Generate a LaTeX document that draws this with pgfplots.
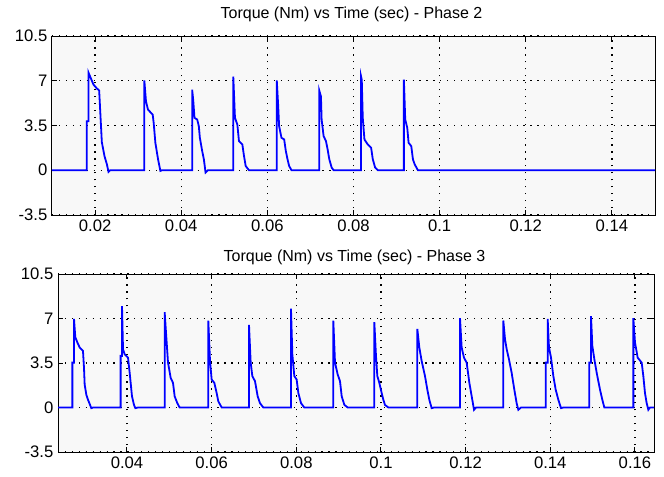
\documentclass[border=0pt]{standalone}
\usepackage{fontspec}
\setmainfont{Liberation Sans}
\usepackage{pgfplots}
\pgfplotsset{compat=1.18}
\definecolor{axbg}{RGB}{248,248,248}
\definecolor{mblue}{RGB}{0,0,255}

\pgfplotsset{
  mlab/.style={
    scale only axis,
    anchor=south west,
    axis background/.style={fill=axbg},
    axis line style={black, line width=0.75pt},
    every tick/.style={black, line width=0.75pt},
    major tick length=3.8pt,
    tick align=inside,
    xtick pos=both, ytick pos=both,
    xticklabel pos=bottom, yticklabel pos=left,
    grid=major,
    major grid style={black, line width=0.9pt, dash pattern=on 0.9pt off 4.3pt},
    ymin=-3.5, ymax=10.5,
    ytick={-3.5,0,3.5,7,10.5},
    scaled x ticks=false,
    xticklabel style={/pgf/number format/fixed, /pgf/number format/precision=2},
    /pgf/number format/assume math mode=true,
    tick label style={font=\fontsize{12.5}{14}\selectfont},
  },
}

\begin{document}
\begin{tikzpicture}
\useasboundingbox (0,0) rectangle (498pt,357pt);

% Phase 2
\begin{axis}[mlab, at={(39pt,195.75pt)}, width=452.25pt, height=134.25pt,
  xmin=0.01, xmax=0.15, xtick={0.02,0.04,0.06,0.08,0.1,0.12,0.14}]
\addplot[mblue, line width=1.35pt] coordinates {
(0.01,0)
(0.01808,0)(0.01808,3.83)(0.01846,3.83)(0.01846,7.65)(0.01963,6.7)(0.02041,6.4)(0.02095,6.24)(0.02118,4.74)(0.02157,2.2)(0.02219,1.1)(0.02274,0.47)(0.02312,-0.13)(0.02351,0)
(0.03144,0)(0.03144,7.02)(0.03182,5.39)(0.03229,4.74)(0.03338,4.35)(0.03361,3.7)(0.034,2.15)(0.03462,0.86)(0.03516,-0.05)(0.03555,0)
(0.04254,0)(0.04254,6.3)(0.04278,5.52)(0.04308,4.1)(0.04371,3.97)(0.04409,3.45)(0.04433,2.54)(0.04487,1.5)(0.04526,0.86)(0.04565,-0.18)(0.04619,0)
(0.05209,0)(0.05209,7.33)(0.05248,4.1)(0.05303,3.58)(0.05341,2.28)(0.05419,2.02)(0.05458,1.11)(0.05497,0.33)(0.05574,0)
(0.06219,0)(0.06219,7.02)(0.0625,5.13)(0.06273,3.45)(0.06328,2.54)(0.0639,2.41)(0.06429,1.5)(0.06468,0.86)(0.06506,0.33)(0.06561,0)
(0.07205,0)(0.07205,6.24)(0.07244,5.78)(0.0726,3.97)(0.07306,2.67)(0.07361,2.28)(0.07399,1.63)(0.07438,0.86)(0.07493,0.21)(0.0754,0)
(0.08176,0)(0.08176,7.33)(0.08192,7.08)(0.08215,4.1)(0.08254,2.41)(0.08331,2.02)(0.08409,1.76)(0.08448,0.86)(0.08502,0.21)(0.08564,0)
(0.0917,0)(0.0917,7.08)(0.09201,3.97)(0.09248,3.32)(0.09279,2.15)(0.09341,1.89)(0.0938,0.86)(0.09419,0.47)(0.09496,0)
(0.15,0)
};
\end{axis}

% Phase 3
\begin{axis}[mlab, at={(43.5pt,18pt)}, width=447pt, height=133.5pt,
  xmin=0.0237, xmax=0.1645, xtick={0.04,0.06,0.08,0.1,0.12,0.14,0.16}]
\addplot[mblue, line width=1.35pt] coordinates {
(0.0237,0)
(0.02709,0)(0.02709,3.53)(0.02748,3.53)(0.02748,6.97)(0.02779,5.52)(0.02827,5.12)(0.02882,4.72)(0.0296,4.46)(0.02984,3.13)(0.03,1.8)(0.03039,1.01)(0.03079,0.61)(0.03157,-0.05)(0.03197,0)
(0.0385,0)(0.0385,4.06)(0.03882,4.06)(0.03882,7.98)(0.03906,4.59)(0.03945,4.19)(0.04024,3.92)(0.04063,2.73)(0.04118,0.88)(0.04165,0.21)(0.04197,-0.05)(0.0426,0)
(0.0489,0)(0.0489,7.5)(0.04929,5.52)(0.04969,3.53)(0.05032,2.33)(0.05087,1.94)(0.05126,0.88)(0.05189,0.34)(0.05244,0)
(0.05921,0)(0.05921,6.84)(0.05961,3.66)(0.06,2.2)(0.06063,1.94)(0.06118,1.14)(0.06158,0.48)(0.06237,0)
(0.06882,0)(0.06882,6.5)(0.06922,3.53)(0.06961,2.47)(0.07024,2.07)(0.07087,0.88)(0.07142,0.34)(0.07221,0)
(0.07874,0)(0.07874,7.77)(0.07906,4.19)(0.07953,2.47)(0.08008,2.2)(0.08048,1.14)(0.08111,0.34)(0.08189,0)
(0.08874,0)(0.08874,6.84)(0.08914,3.53)(0.08977,2.6)(0.09032,2.07)(0.09072,0.88)(0.09135,0.21)(0.09213,0)
(0.09843,0)(0.09843,6.71)(0.09882,4.06)(0.09914,2.47)(0.09961,1.94)(0.10016,1.14)(0.10056,0.61)(0.10095,0.2)(0.10174,0)
(0.10859,0)(0.10859,6.18)(0.10906,4.72)(0.10961,3.66)(0.1104,2.47)(0.11095,1.41)(0.11142,0.61)(0.11197,-0.05)(0.11253,0)
(0.11867,0)(0.11867,7.03)(0.11906,4.72)(0.11961,3.92)(0.12024,3.53)(0.12088,1.94)(0.12143,0.88)(0.12198,-0.18)(0.12245,0)
(0.1289,0)(0.1289,6.84)(0.1293,5.38)(0.12969,4.59)(0.13024,3.79)(0.13087,2.73)(0.1315,1.41)(0.13205,0.34)(0.13245,-0.18)(0.13308,0)
(0.13891,0)(0.13891,3.53)(0.13938,3.53)(0.13938,6.97)(0.13969,4.72)(0.14017,3.92)(0.14072,2.47)(0.14127,1.41)(0.1419,0.61)(0.14253,-0.05)(0.14308,0)
(0.14922,0)(0.14922,3.53)(0.14962,3.53)(0.14962,7.19)(0.14993,4.85)(0.15041,3.79)(0.15096,2.73)(0.15174,1.41)(0.15229,0.61)(0.15277,0)
(0.15962,0)(0.15962,7.03)(0.16001,5.12)(0.16064,3.92)(0.16159,3.53)(0.16198,2.47)(0.16237,1.14)(0.16277,0.34)(0.16316,-0.18)(0.16356,0)
(0.1645,0)
};
\end{axis}

\node[font=\fontsize{12}{14}\selectfont] at (263.6pt,346.5pt) {Torque (Nm) vs Time (sec) - Phase 2};
\node[font=\fontsize{12}{14}\selectfont] at (265.9pt,163.7pt) {Torque (Nm) vs Time (sec) - Phase 3};
\end{tikzpicture}
\end{document}
